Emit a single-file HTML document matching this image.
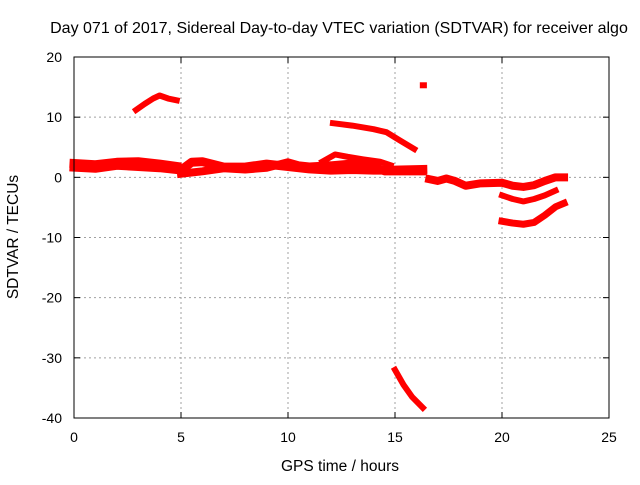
<!DOCTYPE html>
<html><head><meta charset="utf-8"><style>
body{margin:0;background:#fff}
text{font-family:"Liberation Sans",Arial,sans-serif;font-size:14px;fill:#000}
</style></head><body>
<svg id="c" width="640" height="480" xmlns="http://www.w3.org/2000/svg">
<rect width="640" height="480" fill="#fff"/>
<g id="grid"></g><g id="marks"></g><g id="axes"></g>
<text x="339" y="33" text-anchor="middle" style="font-size:16px">Day 071 of 2017, Sidereal Day-to-day VTEC variation (SDTVAR) for receiver algo</text>
<text x="340" y="471" text-anchor="middle" style="font-size:15.5px">GPS time / hours</text>
<text transform="translate(18,237) rotate(-90)" text-anchor="middle" style="font-size:15.5px">SDTVAR / TECUs</text>
</svg>
<script>
const xTicks=[0,5,10,15,20,25];
const yTicks=[20,10,0,-10,-20,-30,-40];
const bandUpper=[[0,2.3],[1,2.1],[2,2.5],[3,2.6],[4,2.2],[4.8,1.8]];
const bandLower=[[0,1.7],[1,1.5],[2,2.0],[3,1.8],[4,1.6],[4.8,1.3]];
const bandMidA=[[5,1.2],[5.5,2.5],[6,2.6],[7,1.7],[8,1.7],[9,2.2],[10,1.8],[11,1.4],[12,1.2],[13,1.3],[14,1.2],[15,1.2],[16.3,1.3]];
const bandMidB=[[5,0.6],[6,1.0],[7,1.5],[8,1.3],[9,1.6],[10,2.5],[10.5,2.0],[11,1.8],[12,2.0],[13,2.3],[14,2.0],[14.5,1.0],[15,1.0],[16.3,1.0]];
const hump=[[11.6,2.6],[12.2,3.8],[12.8,3.4],[13.5,3.0],[14.3,2.6],[14.8,2.0]];
const arcTop=[[2.9,11.2],[3.3,12.2],[3.7,13.1],[4.0,13.6],[4.4,13.1],[4.8,12.8]];
const arcMid=[[12.1,9.0],[13,8.6],[14,8.0],[14.6,7.5],[15.2,6.2],[15.9,4.7]];
const arcLow=[[15.0,-32],[15.4,-34.5],[15.8,-36.5],[16.3,-38.3]];
const spot=[[16.3,15.3],[16.35,15.3]];
const tail=[[16.6,-0.3],[17.0,-0.6],[17.4,-0.2],[17.8,-0.6],[18.3,-1.4],[19,-1.0],[20,-0.9],[20.5,-1.4],[21,-1.6],[21.5,-1.3],[22,-0.6],[22.5,0],[22.9,0]];
const tail2=[[20.0,-3.0],[20.5,-3.6],[21.0,-4.0],[21.5,-3.6],[22.0,-3.0],[22.5,-2.2]];
const tail3=[[20.0,-7.3],[20.5,-7.6],[21.0,-7.8],[21.5,-7.5],[22.0,-6.3],[22.5,-4.9],[22.9,-4.3]];
const series=[[bandUpper,9],[bandLower,9],[bandMidA,9],[bandMidB,8],[hump,6],[arcTop,6],[arcMid,6],[arcLow,6],[spot,6],[tail,8],[tail2,6],[tail3,7]];
const X0=74,X1=609,Y0=418,Y1=57;
const sx=v=>X0+(v-0)/25*(X1-X0);
const sy=v=>Y0-(v+40)/60*(Y0-Y1);
const NS="http://www.w3.org/2000/svg";
function mk(t,a,p){const e=document.createElementNS(NS,t);for(const k in a)e.setAttribute(k,a[k]);p.appendChild(e);return e;}
const g=document.getElementById('grid'),m=document.getElementById('marks'),ax=document.getElementById('axes');
xTicks.forEach(t=>{
 if(t>0&&t<25){const l=mk('line',{x1:sx(t),x2:sx(t),y1:Y1,y2:Y0,stroke:'#a0a0a0','stroke-dasharray':'2,3'},g);
 }
 const tx=mk('text',{x:sx(t),y:Y0+24,'text-anchor':'middle'},ax);tx.textContent=t;
 
 mk('line',{x1:sx(t),x2:sx(t),y1:Y0,y2:Y0-6,stroke:'#000'},ax);mk('line',{x1:sx(t),x2:sx(t),y1:Y1,y2:Y1+6,stroke:'#000'},ax);
});
yTicks.forEach(t=>{
 if(t>-40&&t<20){const l=mk('line',{x1:X0,x2:X1,y1:sy(t),y2:sy(t),stroke:'#a0a0a0','stroke-dasharray':'2,3'},g);
 }
 const tx=mk('text',{x:X0-12,y:sy(t)+5,'text-anchor':'end'},ax);tx.textContent=t;
 
 mk('line',{x1:X0,x2:X0+6,y1:sy(t),y2:sy(t),stroke:'#000'},ax);mk('line',{x1:X1,x2:X1-6,y1:sy(t),y2:sy(t),stroke:'#000'},ax);
});
const fr=mk('rect',{x:X0,y:Y1,width:X1-X0,height:Y0-Y1,fill:'none',stroke:'#000'},ax);

series.forEach(([pts,w])=>{
 const p=mk('polyline',{points:pts.map(q=>sx(q[0])+','+sy(q[1])).join(' '),fill:'none',stroke:'#ff0000','stroke-width':w,'stroke-linecap':'square','stroke-linejoin':'round'},m);
 
 
});
</script>
</body></html>
